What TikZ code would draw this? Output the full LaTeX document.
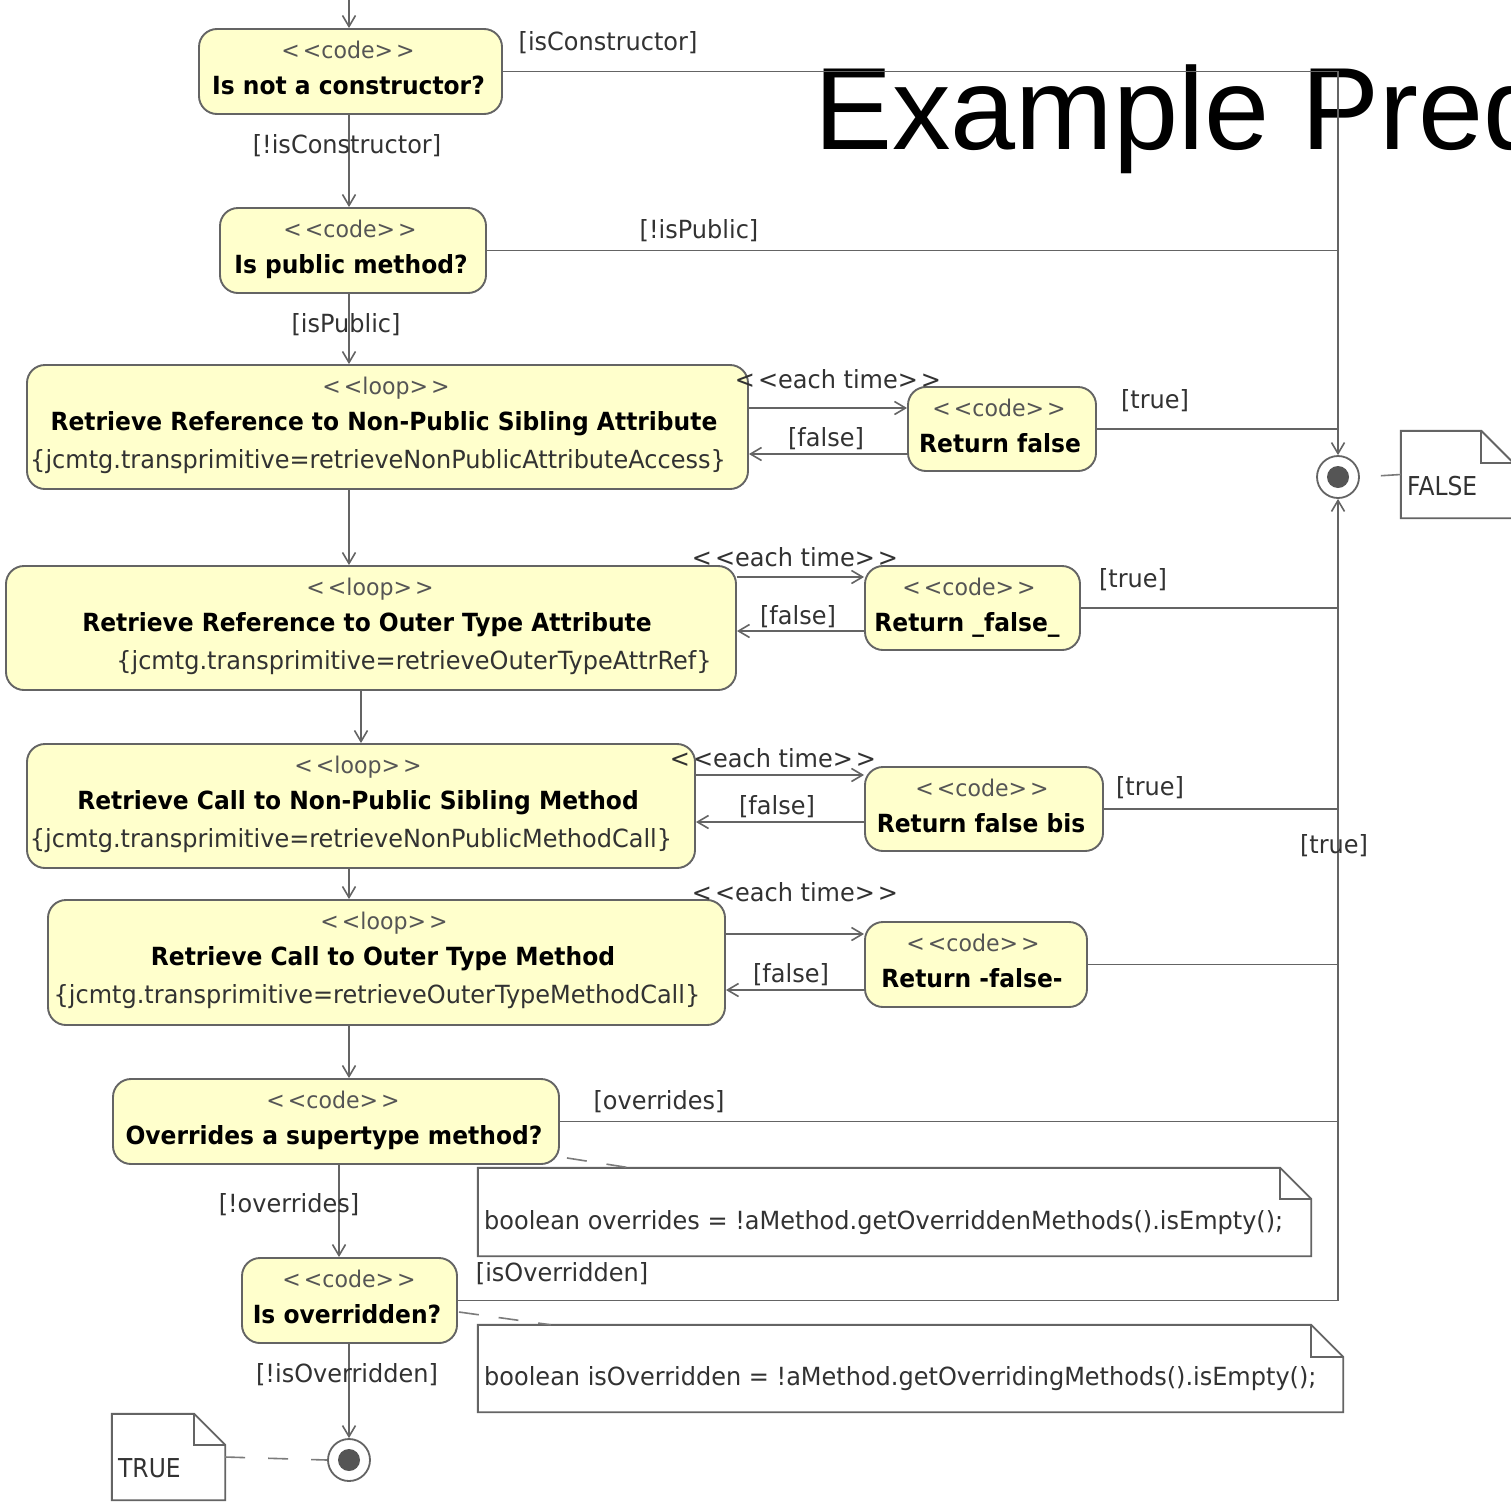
\documentclass[tikz,border=0pt]{standalone}
\usepackage{fontspec}
\setmainfont{DejaVu Sans}
\newfontfamily\labf[FakeStretch=0.96]{DejaVu Sans}
\newfontfamily\actf[FakeStretch=0.935]{DejaVu Sans}
\newfontfamily\notef[FakeStretch=0.9]{DejaVu Sans}
\newfontfamily\titlef{Liberation Sans}
\usetikzlibrary{arrows.meta,calc}
\definecolor{actfill}{RGB}{255,255,204}
\definecolor{edge}{RGB}{100,100,100}
\definecolor{stcol}{RGB}{85,85,85}
\definecolor{labcol}{RGB}{50,50,50}
\newcommand\st[1]{<\hspace{3pt}<#1>\hspace{3pt}>}
\begin{document}
\begin{tikzpicture}[x=1pt,y=-1pt,
  act/.style={draw=edge, fill=actfill, line width=1.9pt, rounded corners=18pt, inner sep=0pt},
  sttext/.style={font=\labf\fontsize{23}{23}\selectfont, text=stcol, anchor=base, inner sep=0pt},
  boldtext/.style={font=\actf\bfseries\fontsize{25}{25}\selectfont, text=black, anchor=base, inner sep=0pt},
  tagtext/.style={font=\labf\fontsize{25}{25}\selectfont, text=labcol, anchor=base, inner sep=0pt},
  lab/.style={font=\labf\fontsize{25}{25}\selectfont, text=labcol, inner sep=0pt},
  notetext/.style={font=\labf\fontsize{25}{25}\selectfont, text=labcol, inner sep=0pt, anchor=west},
  bigtext/.style={font=\notef\fontsize{26}{26}\selectfont, text=labcol, inner sep=0pt, anchor=west},
  line/.style={draw=edge, line width=1.9pt},
  flow/.style={line, -{Straight Barb[length=11pt,width=13pt,line width=1.6pt]}},
  dashline/.style={draw=edge!85, line width=1.6pt, dash pattern=on 20pt off 23pt},
  notebox/.style={inner sep=0pt},
  noteline/.style={draw=edge, line width=1.9pt, fill=white},
  final/.style={circle, draw=edge, line width=1.8pt, fill=white, minimum size=42pt, inner sep=0pt},
  finaldot/.style={circle, fill=edge!85!black, minimum size=22pt, inner sep=0pt}
]
\useasboundingbox (0,0) rectangle (1511,1502);
\fill[white] (0,0) rectangle (1511,1502);
\clip (0,0) rectangle (1511,1502);

% title
\node[font=\titlef\fontsize{117}{117}\selectfont, anchor=base west, inner sep=0pt] (title) at (814,149) {Example Predicate};

% activity boxes
\node[act, minimum width=303pt, minimum height=85pt] (N1) at (350.5,71.5) {};
\node[act, minimum width=266pt, minimum height=85pt] (N2) at (353,250.5) {};
\node[act, minimum width=721pt, minimum height=124pt] (L1) at (387.5,427) {};
\node[act, minimum width=188pt, minimum height=84pt] (R1) at (1002,429) {};
\node[act, minimum width=730pt, minimum height=124pt] (L2) at (371,628) {};
\node[act, minimum width=215pt, minimum height=84pt] (R2) at (972.5,608) {};
\node[act, minimum width=668pt, minimum height=124pt] (L3) at (361,806) {};
\node[act, minimum width=238pt, minimum height=84pt] (R3) at (984,809) {};
\node[act, minimum width=677pt, minimum height=125pt] (L4) at (386.5,962.5) {};
\node[act, minimum width=222pt, minimum height=85pt] (R4) at (976,964.5) {};
\node[act, minimum width=446pt, minimum height=85pt] (N5) at (336,1121.5) {};
\node[act, minimum width=215pt, minimum height=85pt] (N6) at (349.5,1300.5) {};

% final nodes
\node[final] (FF) at (1338,477) {};
\node[finaldot] (FFd) at (FF.center) {};
\node[final] (TF) at (349,1460) {};
\node[finaldot] (TFd) at (TF.center) {};

% box texts
\node[sttext] (N1s) at (348,58) {\st{code}};
\node[boldtext] (N1b) at (348.5,94) {Is not a constructor?};
\node[sttext] (N2s) at (350,237) {\st{code}};
\node[boldtext] (N2b) at (351,273) {Is public method?};
\node[sttext] (L1s) at (386,394) {\st{loop}};
\node[boldtext] (L1b) at (384,430) {Retrieve Reference to Non-Public Sibling Attribute};
\node[tagtext] (L1t) at (378,468) {\{jcmtg.transprimitive=retrieveNonPublicAttributeAccess\}};
\node[sttext] (R1s) at (999,416) {\st{code}};
\node[boldtext] (R1b) at (1000,452) {Return false};
\node[sttext] (L2s) at (370,595) {\st{loop}};
\node[boldtext] (L2b) at (367,631) {Retrieve Reference to Outer Type Attribute};
\node[tagtext] (L2t) at (414,669) {\{jcmtg.transprimitive=retrieveOuterTypeAttrRef\}};
\node[sttext] (R2s) at (969,595) {\st{code}};
\node[boldtext] (R2b) at (967,631) {Return \_false\_};
\node[sttext] (L3s) at (358,773) {\st{loop}};
\node[boldtext] (L3b) at (358,809) {Retrieve Call to Non-Public Sibling Method};
\node[tagtext] (L3t) at (351,847) {\{jcmtg.transprimitive=retrieveNonPublicMethodCall\}};
\node[sttext] (R3s) at (982,796) {\st{code}};
\node[boldtext] (R3b) at (981,832) {Return false bis};
\node[sttext] (L4s) at (384,929) {\st{loop}};
\node[boldtext] (L4b) at (383,965) {Retrieve Call to Outer Type Method};
\node[tagtext] (L4t) at (377,1003) {\{jcmtg.transprimitive=retrieveOuterTypeMethodCall\}};
\node[sttext] (R4s) at (973,951) {\st{code}};
\node[boldtext] (R4b) at (972,987) {Return -false-};
\node[sttext] (N5s) at (333,1108) {\st{code}};
\node[boldtext] (N5b) at (334,1144) {Overrides a supertype method?};
\node[sttext] (N6s) at (349,1287) {\st{code}};
\node[boldtext] (N6b) at (347,1323) {Is overridden?};

% notes
\node[notebox, minimum width=833pt, minimum height=88pt] (note1) at (894.5,1212) {};
\node[notebox, minimum width=865pt, minimum height=87pt] (note2) at (910.5,1368.5) {};
\node[notebox, minimum width=113pt, minimum height=86pt] (tnote) at (168.5,1457) {};
\node[notebox, minimum width=112pt, minimum height=87pt] (fnote) at (1457,474.5) {};
\foreach \n/\f in {note1/31,note2/32,tnote/31,fnote/32}{
  \draw[noteline] (\n.south west) -- (\n.north west) -- ([xshift=-\f pt]\n.north east)
     -- ([yshift=-\f pt]\n.north east) -- (\n.south east) -- cycle;
  \draw[line] ([xshift=-\f pt]\n.north east) -- ([xshift=-\f pt,yshift=-\f pt]\n.north east)
     -- ([yshift=-\f pt]\n.north east);
}
\node[notetext] (note1t) at (484,1223) {boolean overrides = !aMethod.getOverriddenMethods().isEmpty();};
\node[notetext] (note2t) at (484,1379) {boolean isOverridden = !aMethod.getOverridingMethods().isEmpty();};
\node[bigtext] (tnotet) at (118,1468) {TRUE};
\node[bigtext] (fnotet) at (1407,486) {FALSE};

% connectors
\coordinate (cA) at (349,0);
\coordinate (cB) at (361,0);
\coordinate (cC) at (339,0);
\coordinate (e1) at (0,408); \coordinate (f1) at (0,454);
\coordinate (e2) at (0,577); \coordinate (f2) at (0,631);
\coordinate (e3) at (0,775); \coordinate (f3) at (0,822);
\coordinate (e4) at (0,934); \coordinate (f4) at (0,990);

\draw[flow] (cA) -- (cA |- N1.north);
\draw[flow] (N1.south -| cA) -- (N2.north -| cA);
\draw[flow] (N1.east) -- (N1.east -| FF) -- (FF.north);
\draw[line] (N2.east) -- (N2.east -| FF);
\draw[flow] (N2.south -| cA) -- (L1.north -| cA);
\draw[flow] (L1.east |- e1) -- (R1.west |- e1);
\draw[flow] (R1.west |- f1) -- (L1.east |- f1);
\draw[line] (R1.east) -- (R1.east -| FF);
\draw[flow] (L1.south -| cA) -- (L2.north -| cA);
\draw[flow] (L2.east |- e2) -- (R2.west |- e2);
\draw[flow] (R2.west |- f2) -- (L2.east |- f2);
\draw[line] (R2.east) -- (R2.east -| FF);
\draw[flow] (L2.south -| cB) -- (L3.north -| cB);
\draw[flow] (L3.east |- e3) -- (R3.west |- e3);
\draw[flow] (R3.west |- f3) -- (L3.east |- f3);
\draw[line] (R3.east) -- (R3.east -| FF);
\draw[flow] (L3.south -| cA) -- (L4.north -| cA);
\draw[flow] (L4.east |- e4) -- (R4.west |- e4);
\draw[flow] (R4.west |- f4) -- (L4.east |- f4);
\draw[line] (R4.east) -- (R4.east -| FF);
\draw[flow] (L4.south -| cA) -- (N5.north -| cA);
\draw[line] (N5.east) -- (N5.east -| FF);
\draw[flow] (N5.south -| cC) -- (N6.north -| cC);
\draw[flow] (N6.east) -- (N6.east -| FF) -- (FF.south);
\draw[flow] (N6.south -| cA) -- (TF.north);

\draw[dashline] (tnote.east) -- (TF.west);
\draw[dashline] (fnote.west) -- (FF.east);
\draw[dashline, dash pattern=on 20pt off 20pt] ([xshift=7pt,yshift=7pt]N5.south east) -- ([xshift=152pt]note1.north west);
\draw[dashline, dash pattern=on 20pt off 20pt] ([xshift=1pt,yshift=-11.5pt]N6.east) -- ([xshift=73pt]note2.north west);

% labels
\node[lab] (l1) at (608,43) {[isConstructor]};
\node[lab] (l2) at (347,146) {[!isConstructor]};
\node[lab] (l3) at (699,231) {[!isPublic]};
\node[lab] (l4) at (346,325) {[isPublic]};
\node[lab] (l5) at (838,379) {\st{each time}};
\node[lab] (l6) at (826,439) {[false]};
\node[lab] (l7) at (1155,401) {[true]};
\node[lab] (l8) at (795,557) {\st{each time}};
\node[lab] (l9) at (798,617) {[false]};
\node[lab] (l10) at (1133,580) {[true]};
\node[lab] (l11) at (773,758) {\st{each time}};
\node[lab] (l12) at (777,807) {[false]};
\node[lab] (l13) at (1150,788) {[true]};
\node[lab] (l14) at (795,892) {\st{each time}};
\node[lab] (l15) at (791,975) {[false]};
\node[lab] (l16) at (1334,846) {[true]};
\node[lab] (l17) at (659,1102) {[overrides]};
\node[lab] (l18) at (289,1205) {[!overrides]};
\node[lab] (l19) at (562,1274) {[isOverridden]};
\node[lab] (l20) at (347,1375) {[!isOverridden]};
\end{tikzpicture}
\end{document}
